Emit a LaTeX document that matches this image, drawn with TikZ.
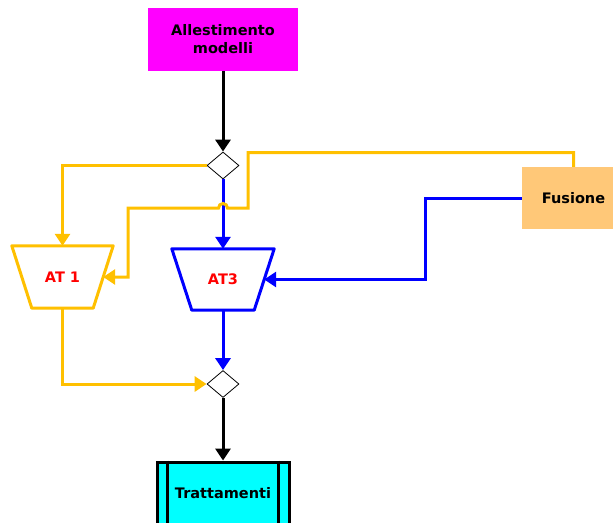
\documentclass[tikz,border=0pt]{standalone}
\usepackage{fontspec}
\setmainfont{DejaVu Sans}
\usetikzlibrary{arrows.meta,shapes.geometric}
\definecolor{amber}{HTML}{FFC000}
\definecolor{fusfill}{HTML}{FFC878}
\definecolor{mag}{HTML}{FF00FF}
\definecolor{cyn}{HTML}{00FFFF}
\definecolor{blu}{HTML}{0000FF}
\definecolor{redtxt}{HTML}{FF0000}
\begin{document}
\begin{tikzpicture}[x=1pt,y=-1pt,
  lbl/.style={font=\bfseries\fontsize{14.5}{18}\selectfont, align=center},
  procbox/.style={lbl, rectangle, inner sep=0pt},
  decision/.style={diamond, draw=black, line width=0.8pt, fill=white, inner sep=0pt, minimum width=32pt, minimum height=27pt},
  opbox/.style={lbl, rectangle, text=redtxt, inner sep=0pt, minimum height=62pt},
  trap/.style={line width=3pt, line join=round, fill=white},
  conn/.style={line width=3pt, -{Triangle[length=12pt,width=15pt]}},
  blk/.style={conn, draw=black},
  org/.style={conn, draw=amber},
  bl/.style={conn, draw=blu}]
\useasboundingbox (0,0) rectangle (613,522);

\node[procbox, fill=mag, minimum width=150pt, minimum height=63pt] (alle) at (223,39.5) {Allestimento\\modelli};
\node[decision] (d1) at (223,165.5) {};
% AT 1
\node[opbox, minimum width=101pt] (at1) at (62.5,277) {};
\draw[trap, draw=amber] (at1.north west) -- (at1.north east) -- ([xshift=-20pt]at1.south east) -- ([xshift=20pt]at1.south west) -- cycle;
\node[lbl, text=redtxt] at (at1.center) {AT 1};
% AT3
\node[opbox, minimum width=102pt, minimum height=61pt] (at3) at (223,279.5) {};
\draw[trap, draw=blu] (at3.north west) -- (at3.north east) -- ([xshift=-20pt]at3.south east) -- ([xshift=20pt]at3.south west) -- cycle;
\node[lbl, text=redtxt] at (at3.center) {AT3};
\node[procbox, fill=fusfill, minimum width=103pt, minimum height=62pt] (fus) at (573.5,198) {Fusione};
\node[decision] (d2) at (223,384) {};
\node[procbox, fill=cyn, draw=black, line width=3pt, minimum width=132pt, minimum height=62pt] (tratt) at (223,493) {Trattamenti};
\draw[line width=3pt] ([xshift=12pt]tratt.north west) -- ([xshift=12pt]tratt.south west);
\draw[line width=3pt] ([xshift=-12pt]tratt.north east) -- ([xshift=-12pt]tratt.south east);

\draw[blk] (alle.south) -- (d1.north);
\draw[org] (d1.west) -| (at1.north);
\draw[bl] (d1.south) -- (at3.north);
\draw[org] (fus.north) |- (248,152.5) -- (248,208) -- (227.5,208) arc (0:-180:4.5) -- (128,208) |- ([xshift=-10pt]at1.east);
\draw[bl] (fus.west) -- (425,198) |- ([xshift=-10pt]at3.east);
\draw[org] (at1.south) |- (d2.west);
\draw[bl] (at3.south) -- (d2.north);
\draw[blk] (d2.south) -- (tratt.north);
\end{tikzpicture}
\end{document}
